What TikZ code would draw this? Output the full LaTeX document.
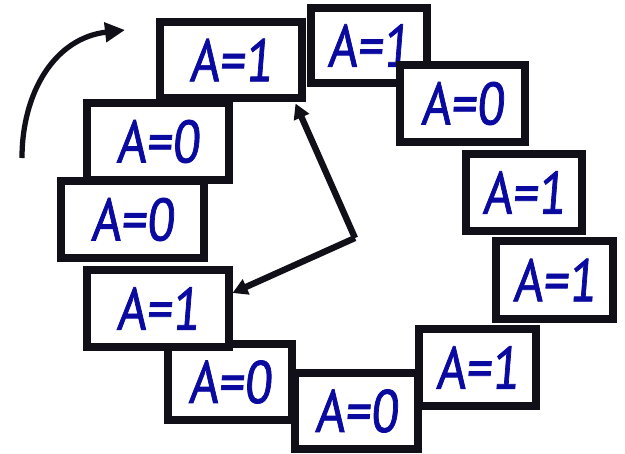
\documentclass[tikz,border=0pt]{standalone}
\usepackage{fontspec}
\setmainfont{PT Sans}
\newfontfamily\cellfont[FakeSlant=0.08,FakeStretch=0.85,FakeBold=1.2]{PT Sans}
\usetikzlibrary{arrows.meta}
\definecolor{inkblue}{HTML}{0A0AA0}
\definecolor{inkblack}{HTML}{111018}
\begin{document}
\begin{tikzpicture}[x=0.02cm,y=-0.02cm,
  cell/.style={draw=inkblack,fill=white,line width=4pt,inner sep=0pt,
    font=\cellfont\fontsize{34}{38}\selectfont,text=inkblue},
  hand/.style={draw=inkblack,line width=3.6pt,
    -{Triangle[length=15*0.02cm,width=16*0.02cm]}}]
\useasboundingbox (0,0) rectangle (625,453);
% memory cells placed round a ring
\node[cell,minimum width=142*0.02cm,minimum height=76*0.02cm] (b1) at (231,60) {A=1};
\node[cell,minimum width=116*0.02cm,minimum height=75*0.02cm] (b2) at (369,45.5) {A=1};
\node[cell,minimum width=125*0.02cm,minimum height=77*0.02cm] (b3) at (462.5,103.5) {A=0};
\node[cell,minimum width=116*0.02cm,minimum height=77*0.02cm] (b4) at (524,192.5) {A=1};
\node[cell,minimum width=117*0.02cm,minimum height=78*0.02cm] (b5) at (554.5,280) {A=1};
\node[cell,minimum width=117*0.02cm,minimum height=77*0.02cm] (b6) at (477.5,367.5) {A=1};
\node[cell,minimum width=124*0.02cm,minimum height=76*0.02cm] (b8) at (230,382) {A=0};
\node[cell,minimum width=123*0.02cm,minimum height=76*0.02cm] (b7) at (356.5,411) {A=0};
\node[cell,minimum width=142*0.02cm,minimum height=77*0.02cm] (b9) at (158,308.5) {A=1};
\node[cell,minimum width=142*0.02cm,minimum height=77*0.02cm] (b11) at (158,141.5) {A=0};
\node[cell,minimum width=143*0.02cm,minimum height=77*0.02cm] (b10) at (132.5,219.5) {A=0};
% the two pointers from the hub
\coordinate (hub) at (355,238);
\draw[hand] (hub) -- ([shift={(-10,2)}]b1.south east);
\draw[hand] (hub) -- ([shift={(0,-15.5)}]b9.east);
% direction of rotation
\coordinate (rs) at (22,158);
\coordinate (re) at (125,30);
\draw[draw=inkblack,line width=3pt,-{Triangle[length=20*0.02cm,width=19*0.02cm]}]
  (rs) .. controls (22,92) and (55,38) .. (re);
\end{tikzpicture}
\end{document}
